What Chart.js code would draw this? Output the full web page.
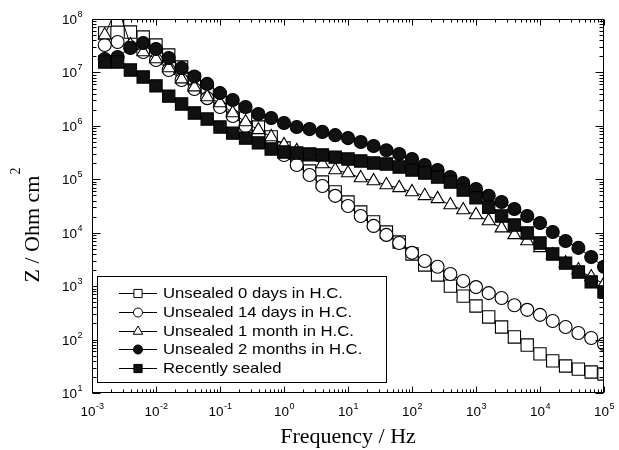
<!DOCTYPE html>
<html>
<head>
<meta charset="utf-8">
<script src="https://cdn.jsdelivr.net/npm/chart.js@4.4.1/dist/chart.umd.min.js"></script>
<style>
  html, body { margin: 0; padding: 0; background: #fff; }
  canvas { display: block; }
</style>
</head>
<body>
<canvas id="grafico" width="619" height="450"></canvas>
<script>
// frequências (Hz), 5 pontos por década
const freq = [0.00158, 0.00251, 0.00398, 0.00631, 0.01, 0.0158, 0.0251, 0.0398, 0.0631, 0.1,
  0.158, 0.251, 0.398, 0.631, 1, 1.58, 2.51, 3.98, 6.31, 10,
  15.8, 25.1, 39.8, 63.1, 100, 158, 251, 398, 631, 1000,
  1580, 2510, 3980, 6310, 10000, 15800, 25100, 39800, 63100, 100000];

const unsealed0 = [5.5e7, 9.6e7, 5.7e7, 4.6e7, 3.26e7, 2.12e7, 1.26e7, 7.5e6, 4.7e6, 3.05e6,
  2.07e6, 1.4e6, 9.5e5, 6.2e5, 3.85e5, 2.3e5, 1.43e5, 8.9e4, 5.8e4, 3.76e4,
  2.44e4, 1.59e4, 1.03e4, 6.7e3, 4.0e3, 2.49e3, 1.62e3, 1.0e3, 650, 425,
  265, 172, 112, 79, 54, 40, 32, 28, 24.7, 22.7];

const unsealed14 = [3.26e7, 3.7e7, 3.0e7, 2.41e7, 1.71e7, 1.11e7, 7.2e6, 4.9e6, 3.3e6, 2.25e6,
  1.53e6, 9.9e5, 6.7e5, 4.4e5, 2.85e5, 1.85e5, 1.2e5, 7.5e4, 4.9e4, 3.16e4,
  2.06e4, 1.34e4, 9.1e3, 6.4e3, 4.2e3, 2.96e3, 2.3e3, 1.69e3, 1.25e3, 960,
  740, 600, 440, 360, 290, 223, 172, 133, 107, 83];

const unsealed1m = [5.0e7, 1.75e8, 3.26e7, 2.41e7, 1.78e7, 1.21e7, 7.5e6, 5.3e6, 3.47e6, 2.68e6,
  1.74e6, 1.18e6, 8.4e5, 6.2e5, 4.4e5, 3.4e5, 2.6e5, 1.93e5, 1.49e5, 1.31e5,
  1.06e5, 9.3e4, 7.8e4, 6.9e4, 5.8e4, 4.9e4, 4.3e4, 3.3e4, 2.66e4, 2.15e4,
  1.66e4, 1.22e4, 9.1e3, 7.0e3, 5.2e3, 3.83e3, 2.7e3, 2.0e3, 1.48e3, 1.1e3];

const unsealed2m = [1.78e7, 1.95e7, 2.87e7, 3.56e7, 2.75e7, 1.86e7, 1.21e7, 8.4e6, 6.1e6, 4.1e6,
  3.05e6, 2.25e6, 1.67e6, 1.4e6, 1.13e6, 9.5e5, 8.7e5, 7.7e5, 6.7e5, 5.9e5,
  5.0e5, 4.2e5, 3.5e5, 2.97e5, 2.4e5, 1.85e5, 1.49e5, 1.1e5, 8.5e4, 6.6e4,
  4.9e4, 3.76e4, 2.78e4, 2.06e4, 1.52e4, 1.03e4, 7.0e3, 5.2e3, 3.5e3, 2.3e3];

const recentlySealed = [1.57e7, 1.57e7, 1.11e7, 8.2e6, 5.6e6, 3.6e6, 2.57e6, 1.74e6, 1.34e6, 9.5e5,
  7.3e5, 5.9e5, 4.8e5, 3.7e5, 3.24e5, 3.1e5, 2.97e5, 2.85e5, 2.6e5, 2.4e5,
  2.2e5, 2.02e5, 1.93e5, 1.7e5, 1.49e5, 1.31e5, 1.1e5, 8.9e4, 6.3e4, 4.5e4,
  3.0e4, 2.06e4, 1.39e4, 9.9e3, 6.4e3, 4.0e3, 2.7e3, 1.84e3, 1.2e3, 780];

const seriesLabels = ['Unsealed 0 days in H.C.', 'Unsealed 14 days in H.C.', 'Unsealed 1 month in H.C.',
  'Unsealed 2 months in H.C.', 'Recently sealed'];

const xTickExp = ['-3', '-2', '-1', '0', '1', '2', '3', '4', '5'];
const yTickExp = ['1', '2', '3', '4', '5', '6', '7', '8'];
const xTitle = 'Frequency / Hz';
const yTitle = 'Z / Ohm cm';
const yTitleSup = '2';

function pontos(vals) {
  return freq.map((f, i) => ({ x: f, y: vals[i] }));
}

function serie(label, vals, estilo, raio, preenchido, ordem) {
  return {
    label: label,
    data: pontos(vals),
    showLine: true,
    borderColor: '#000',
    borderWidth: 1,
    pointStyle: estilo,
    pointRadius: raio,
    pointBorderColor: '#000',
    pointBorderWidth: 1.1,
    pointBackgroundColor: preenchido ? '#111' : '#fff',
    order: ordem
  };
}

// desenha o quadro, ticks internos, rótulos, títulos e a legenda
const moldura = {
  id: 'moldura',
  afterDraw(chart) {
    const ctx = chart.ctx;
    const a = chart.chartArea;
    const sx = chart.scales.x;
    const sy = chart.scales.y;
    ctx.save();
    ctx.strokeStyle = '#000';
    ctx.fillStyle = '#000';
    ctx.lineWidth = 1;

    const L = Math.round(a.left) + 0.5, R = Math.round(a.right) - 0.5;
    const T = Math.round(a.top) + 0.5, B = Math.round(a.bottom) - 0.5;
    ctx.strokeRect(L, T, R - L, B - T);

    // ticks do eixo x (baixo e cima)
    ctx.beginPath();
    xTickExp.forEach((e) => {
      const dec = Math.pow(10, Number(e));
      for (let m = 1; m <= 9; m++) {
        const v = dec * m;
        if (v > 1e5 * 1.0001) break;
        const px = Math.round(sx.getPixelForValue(v)) + 0.5;
        const len = m === 1 ? 6 : 3;
        ctx.moveTo(px, B); ctx.lineTo(px, B - len);
        ctx.moveTo(px, T); ctx.lineTo(px, T + len);
      }
    });
    // ticks do eixo y (esquerda e direita)
    yTickExp.forEach((e) => {
      const dec = Math.pow(10, Number(e));
      for (let m = 1; m <= 9; m++) {
        const v = dec * m;
        if (v > 1e8 * 1.0001) break;
        const py = Math.round(sy.getPixelForValue(v)) + 0.5;
        const len = m === 1 ? 8 : 4;
        ctx.moveTo(L, py); ctx.lineTo(L + len, py);
        ctx.moveTo(R, py); ctx.lineTo(R - len, py);
      }
    });
    ctx.stroke();

    // rótulos 10^n
    const fBase = '13.5px "Liberation Sans", Arial, sans-serif';
    const fExp = '9px "Liberation Sans", Arial, sans-serif';
    ctx.textBaseline = 'alphabetic';
    ctx.textAlign = 'left';
    xTickExp.forEach((e) => {
      const px = sx.getPixelForValue(Math.pow(10, Number(e)));
      ctx.font = fBase; const w1 = ctx.measureText('10').width;
      ctx.font = fExp; const w2 = ctx.measureText(e).width;
      const x0 = px - (w1 + w2) / 2;
      ctx.font = fBase; ctx.fillText('10', x0, 416);
      ctx.font = fExp; ctx.fillText(e, x0 + w1 + 0.5, 409);
    });
    yTickExp.forEach((e) => {
      const py = sy.getPixelForValue(Math.pow(10, Number(e)));
      ctx.font = fBase; const w1 = ctx.measureText('10').width;
      ctx.font = fExp; const w2 = ctx.measureText(e).width;
      const x0 = 82 - w1 - w2;
      ctx.font = fBase; ctx.fillText('10', x0, py + 5);
      ctx.font = fExp; ctx.fillText(e, x0 + w1 + 0.5, py - 2);
    });

    // títulos dos eixos
    ctx.font = '22px "Liberation Serif", "Times New Roman", serif';
    ctx.textAlign = 'center';
    ctx.fillText(xTitle, (a.left + a.right) / 2, 443);

    ctx.save();
    ctx.translate(39, 229);
    ctx.rotate(-Math.PI / 2);
    ctx.textAlign = 'center';
    const wt = ctx.measureText(yTitle).width;
    ctx.fillText(yTitle, 0, 0);
    ctx.font = '14px "Liberation Serif", "Times New Roman", serif';
    ctx.textAlign = 'left';
    ctx.fillText(yTitleSup, wt / 2 + 1, -19);
    ctx.restore();

    // legenda
    const bx = 97.5, by = 276.5, bw = 289, bh = 106;
    ctx.fillStyle = '#fff';
    ctx.fillRect(bx, by, bw, bh);
    ctx.strokeStyle = '#000';
    ctx.strokeRect(bx, by, bw, bh);
    chart.data.datasets.forEach((ds, i) => {
      const y = Math.round(293 + i * 18.75) + 0.5;
      ctx.strokeStyle = '#000';
      ctx.lineWidth = 1;
      ctx.beginPath();
      ctx.moveTo(119, y);
      ctx.lineTo(157, y);
      ctx.stroke();
      ctx.fillStyle = ds.pointBackgroundColor;
      ctx.strokeStyle = '#000';
      Chart.helpers.drawPoint(ctx, {
        pointStyle: ds.pointStyle,
        radius: ds.pointStyle === 'rect' ? 5.8 : (ds.pointStyle === 'triangle' ? 5.5 : 4.5),
        borderWidth: 1
      }, 138, y);
      ctx.fillStyle = '#000';
      ctx.save();
      ctx.translate(163, y);
      ctx.scale(1.15, 1);
      ctx.font = '14.5px "Liberation Sans", Arial, sans-serif';
      ctx.textAlign = 'left';
      ctx.textBaseline = 'middle';
      ctx.fillText(ds.label, 0, 0);
      ctx.restore();
    });
    ctx.restore();
  }
};

const ctx = document.getElementById('grafico').getContext('2d');

new Chart(ctx, {
  type: 'line',
  data: {
    datasets: [
      serie(seriesLabels[0], unsealed0, 'rect', 8.7, false, 5),
      serie(seriesLabels[1], unsealed14, 'circle', 6.5, false, 4),
      serie(seriesLabels[2], unsealed1m, 'triangle', 7.5, false, 3),
      serie(seriesLabels[3], unsealed2m, 'circle', 6.5, true, 2),
      serie(seriesLabels[4], recentlySealed, 'rect', 8.7, true, 1)
    ]
  },
  options: {
    responsive: false,
    devicePixelRatio: 1,
    animation: false,
    events: [],
    layout: { padding: { left: 92, right: 15, top: 19, bottom: 57 } },
    scales: {
      x: { type: 'logarithmic', min: 1e-3, max: 1e5, display: false },
      y: { type: 'logarithmic', min: 10, max: 1e8, display: false }
    },
    plugins: {
      legend: { display: false },
      tooltip: { enabled: false }
    }
  },
  plugins: [moldura]
});
</script>
</body>
</html>
